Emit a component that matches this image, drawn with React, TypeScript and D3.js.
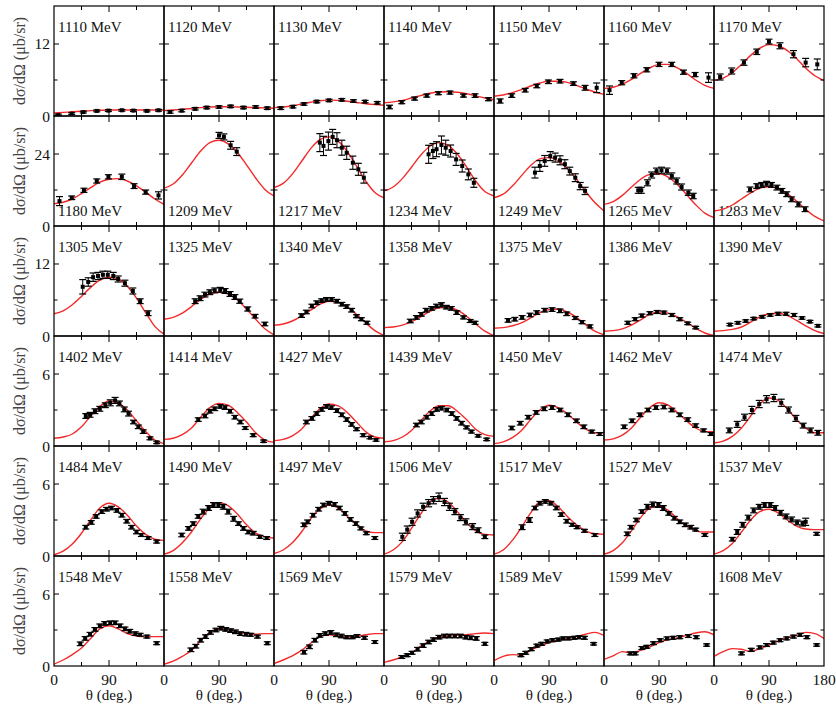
import * as d3 from "d3";

// beam energies, row by row (7 panels per row)
const energies = [
  1110, 1120, 1130, 1140, 1150, 1160, 1170,
  1180, 1209, 1217, 1234, 1249, 1265, 1283,
  1305, 1325, 1340, 1358, 1375, 1386, 1390,
  1402, 1414, 1427, 1439, 1450, 1462, 1474,
  1484, 1490, 1497, 1506, 1517, 1527, 1537,
  1548, 1558, 1569, 1579, 1589, 1599, 1608,
];

// y range of each row and its tick values (last one gets a label)
const rowMax = [18.33, 36.67, 18.33, 9.17, 9.17, 9.17];
const rowTicks = [[6, 12], [12, 24], [6, 12], [3, 6], [3, 6], [3, 6]];
const xTicks = [45, 90, 135];
const xLabels = [0, 90];

// model curve sampled every 15 degrees
const curveAngles = [0, 15, 30, 45, 60, 75, 90, 105, 120, 135, 150, 165, 180];
const curves = [
  [0.5, 0.6, 0.7, 0.8, 0.9, 0.95, 1.0, 1.0, 1.0, 1.0, 1.0, 1.0, 1.0],
  [0.9, 1.0, 1.1, 1.25, 1.4, 1.5, 1.55, 1.55, 1.5, 1.45, 1.4, 1.35, 1.3],
  [1.4, 1.5, 1.7, 2.0, 2.3, 2.55, 2.65, 2.6, 2.45, 2.25, 2.05, 1.9, 1.8],
  [2.2, 2.35, 2.6, 3.0, 3.4, 3.8, 4.0, 4.05, 3.95, 3.7, 3.35, 3.0, 2.7],
  [3.3, 3.5, 3.9, 4.4, 5.0, 5.5, 5.8, 5.8, 5.6, 5.1, 4.5, 4.0, 3.6],
  [4.6, 4.8, 5.3, 6.1, 7.1, 8.0, 8.6, 8.6, 8.0, 7.1, 6.0, 5.1, 4.6],
  [5.9, 6.3, 7.2, 8.6, 10.1, 11.3, 11.9, 11.7, 10.9, 9.6, 8.0, 6.7, 5.9],

  [7.4, 7.9, 9.0, 10.8, 12.8, 14.6, 15.6, 15.8, 15.0, 13.4, 11.3, 9.0, 7.2],
  [12.6, 14.0, 17.0, 21.0, 25.0, 27.8, 28.6, 27.4, 24.5, 20.4, 16.0, 12.2, 10.0],
  [12.8, 14.2, 17.3, 21.5, 25.8, 28.8, 29.7, 28.3, 24.8, 20.0, 15.0, 11.2, 9.4],
  [11.7, 13.0, 15.8, 19.6, 23.6, 26.6, 27.8, 26.9, 24.0, 19.7, 15.0, 11.5, 10.0],
  [9.4, 10.6, 13.3, 16.8, 20.2, 22.4, 22.8, 21.7, 19.2, 15.6, 11.5, 7.8, 5.0],
  [7.2, 8.1, 10.2, 13.0, 15.6, 17.2, 17.4, 16.3, 13.8, 10.5, 7.1, 4.3, 2.8],
  [5.0, 5.6, 7.0, 9.0, 11.0, 12.6, 13.1, 12.5, 10.8, 8.3, 5.6, 3.2, 1.7],

  [3.7, 4.2, 5.2, 6.6, 8.1, 9.3, 9.8, 9.5, 8.3, 6.3, 3.9, 1.6, 0.3],
  [2.8, 3.1, 3.8, 4.9, 6.1, 7.0, 7.3, 7.0, 6.0, 4.5, 2.8, 1.2, 0.2],
  [1.8, 2.0, 2.5, 3.3, 4.3, 5.3, 5.8, 5.6, 4.8, 3.6, 2.2, 0.9, 0.1],
  [1.4, 1.5, 1.8, 2.4, 3.2, 4.1, 4.7, 4.8, 4.3, 3.3, 2.0, 0.8, 0.05],
  [1.3, 1.4, 1.7, 2.2, 3.0, 3.9, 4.4, 4.5, 4.0, 3.1, 1.9, 0.8, 0.2],
  [0.8, 0.9, 1.2, 1.8, 2.7, 3.6, 4.0, 3.8, 3.2, 2.3, 1.3, 0.5, 0.1],
  [0.8, 0.9, 1.1, 1.5, 2.3, 3.2, 3.7, 3.8, 3.4, 2.6, 1.7, 0.9, 0.4],

  [0.64, 0.75, 1.0, 1.6, 2.5, 3.3, 3.75, 3.6, 3.0, 2.1, 1.2, 0.5, 0.2],
  [0.55, 0.65, 0.95, 1.5, 2.4, 3.2, 3.55, 3.4, 2.8, 2.0, 1.1, 0.5, 0.3],
  [0.45, 0.55, 0.85, 1.4, 2.3, 3.1, 3.5, 3.35, 2.8, 2.0, 1.2, 0.75, 0.65],
  [0.35, 0.45, 0.75, 1.3, 2.1, 2.9, 3.35, 3.35, 2.9, 2.2, 1.4, 0.95, 0.8],
  [0.2, 0.35, 0.7, 1.3, 2.2, 3.0, 3.4, 3.2, 2.7, 2.0, 1.4, 1.1, 1.1],
  [0.5, 0.6, 0.9, 1.5, 2.4, 3.2, 3.6, 3.4, 2.8, 2.1, 1.5, 1.2, 1.2],
  [0.25, 0.4, 0.8, 1.5, 2.5, 3.5, 4.0, 3.8, 3.1, 2.2, 1.5, 1.1, 1.1],

  [0.1, 0.4, 1.0, 1.9, 3.0, 4.0, 4.4, 4.1, 3.4, 2.5, 1.8, 1.4, 1.3],
  [0.15, 0.45, 1.1, 2.0, 3.1, 4.0, 4.45, 4.2, 3.5, 2.6, 1.9, 1.6, 1.5],
  [0.2, 0.5, 1.1, 2.0, 3.1, 3.9, 4.25, 4.0, 3.3, 2.6, 2.1, 1.95, 1.95],
  [0.15, 0.5, 1.2, 2.3, 3.5, 4.5, 4.8, 4.5, 3.7, 2.8, 2.1, 1.8, 1.75],
  [0.15, 0.5, 1.3, 2.4, 3.6, 4.5, 4.6, 4.1, 3.3, 2.6, 2.1, 1.85, 1.8],
  [0.15, 0.45, 1.1, 2.1, 3.2, 4.0, 4.15, 3.8, 3.1, 2.5, 2.1, 2.0, 2.0],
  [0.15, 0.45, 1.05, 2.0, 3.0, 3.7, 3.9, 3.6, 3.0, 2.5, 2.25, 2.2, 2.2],

  [0.15, 0.5, 0.95, 1.5, 2.3, 3.1, 3.35, 3.1, 2.7, 2.5, 2.45, 2.45, 2.45],
  [0.15, 0.4, 0.8, 1.3, 2.1, 2.8, 3.1, 3.05, 2.85, 2.7, 2.65, 2.7, 2.7],
  [0.2, 0.5, 0.85, 1.3, 1.9, 2.45, 2.6, 2.5, 2.4, 2.45, 2.6, 2.7, 2.7],
  [0.3, 0.5, 0.75, 1.1, 1.65, 2.1, 2.4, 2.5, 2.55, 2.6, 2.7, 2.75, 2.7],
  [0.45, 0.8, 0.95, 0.9, 1.3, 1.65, 1.95, 2.15, 2.3, 2.45, 2.65, 2.8, 2.55],
  [0.55, 0.85, 1.2, 1.1, 1.3, 1.6, 1.95, 2.2, 2.35, 2.55, 2.75, 2.85, 2.6],
  [0.8, 1.2, 1.45, 1.4, 1.2, 1.45, 1.75, 2.1, 2.35, 2.55, 2.8, 2.7, 2.3],
];

// measured points: [theta, dsigma, error]
const points = [
  [[7, 0.15, 0.15], [29, 0.4, 0.15], [48, 0.65, 0.15], [70, 0.85, 0.15], [89, 0.9, 0.15], [111, 0.95, 0.15], [130, 0.9, 0.15], [152, 0.85, 0.15], [171, 0.95, 0.15]],
  [[10, 0.67, 0.2], [29, 0.9, 0.2], [51, 1.2, 0.2], [70, 1.4, 0.2], [90, 1.5, 0.2], [109, 1.6, 0.2], [130, 1.4, 0.2], [150, 1.5, 0.2], [169, 1.3, 0.2]],
  [[11, 1.3, 0.2], [31, 1.55, 0.2], [49, 2.0, 0.2], [70, 2.4, 0.2], [90, 2.6, 0.2], [111, 2.7, 0.2], [130, 2.5, 0.2], [149, 2.4, 0.2], [169, 2.2, 0.2]],
  [[9, 1.5, 0.3], [29, 2.3, 0.25], [50, 2.9, 0.25], [70, 3.4, 0.25], [89, 3.8, 0.25], [108, 3.9, 0.25], [130, 3.4, 0.25], [149, 3.4, 0.3], [171, 2.8, 0.25]],
  [[10, 2.5, 0.35], [29, 3.4, 0.3], [51, 4.3, 0.3], [70, 5.0, 0.3], [89, 5.7, 0.3], [108, 5.8, 0.3], [130, 5.4, 0.3], [149, 4.7, 0.4], [168, 4.7, 0.8]],
  [[9, 4.3, 0.7], [29, 5.55, 0.35], [49, 6.7, 0.35], [70, 7.7, 0.35], [90, 8.6, 0.35], [111, 8.6, 0.35], [130, 7.3, 0.35], [149, 6.9, 0.35], [171, 6.4, 0.8]],
  [[10, 6.5, 0.5], [29, 7.5, 0.5], [49, 8.9, 0.45], [70, 10.7, 0.45], [90, 12.4, 0.4], [108, 11.7, 0.5], [130, 10.3, 0.6], [150, 8.9, 0.7], [169, 8.6, 0.9]],

  [[9, 8.3, 1.5], [29, 9.4, 0.6], [49, 11.9, 0.7], [70, 15.0, 0.7], [89, 16.4, 0.7], [111, 16.4, 0.9], [131, 13.3, 0.8], [150, 11.3, 0.7], [171, 10.2, 1.2]],
  [[90, 30.2, 1.0], [98, 29.7, 1.0], [109, 26.9, 1.3], [119, 24.8, 1.3]],
  [[75, 27.8, 3.0], [81, 26.7, 3.2], [89, 28.3, 3.0], [96, 29.7, 2.5], [103, 28.6, 2.5], [111, 26.1, 2.5], [119, 24.4, 2.2], [129, 21.1, 2.2], [138, 18.9, 2.0], [147, 16.1, 1.8]],
  [[73, 23.9, 3.0], [80, 25.0, 2.5], [86, 25.6, 2.5], [94, 27.0, 3.0], [101, 26.1, 2.5], [109, 25.0, 2.0], [118, 22.2, 2.0], [128, 20.0, 2.0], [138, 17.2, 1.8], [147, 14.4, 1.5]],
  [[67, 17.8, 1.8], [75, 20.0, 1.8], [83, 21.7, 1.8], [92, 23.3, 1.5], [100, 22.8, 1.5], [108, 21.9, 1.5], [116, 20.6, 1.5], [124, 18.3, 1.3], [133, 16.1, 1.3], [141, 13.3, 1.2], [149, 11.7, 1.2]],
  [[56, 11.9, 1.0], [61, 11.9, 1.0], [71, 14.4, 1.0], [78, 17.0, 1.0], [86, 18.3, 1.0], [94, 18.6, 1.0], [103, 18.3, 1.0], [111, 16.7, 1.0], [119, 15.0, 1.0], [127, 13.0, 1.0], [138, 11.1, 0.9], [146, 10.0, 0.9]],
  [[59, 12.2, 0.8], [70, 13.3, 0.8], [78, 13.7, 0.8], [86, 14.1, 0.8], [94, 13.7, 0.8], [103, 12.8, 0.8], [111, 11.7, 0.8], [119, 10.6, 0.8], [127, 8.9, 0.8], [138, 7.2, 0.8], [149, 5.6, 0.8]],

  [[47, 8.2, 1.2], [56, 9.0, 0.7], [64, 9.8, 0.7], [72, 10.0, 0.6], [80, 10.2, 0.6], [88, 10.2, 0.6], [97, 10.0, 0.6], [105, 9.5, 0.5], [116, 8.8, 0.5], [129, 7.5, 0.5], [141, 5.8, 0.4], [154, 3.8, 0.4]],
  [[51, 5.8, 0.4], [59, 6.3, 0.4], [67, 6.9, 0.4], [75, 7.3, 0.4], [83, 7.6, 0.4], [92, 7.7, 0.4], [100, 7.5, 0.4], [108, 7.0, 0.4], [116, 6.5, 0.4], [124, 5.8, 0.35], [137, 4.5, 0.35], [149, 3.3, 0.3], [165, 2.0, 0.3]],
  [[45, 3.4, 0.3], [53, 4.0, 0.3], [62, 5.0, 0.3], [70, 5.55, 0.3], [78, 5.9, 0.3], [86, 6.1, 0.3], [94, 6.1, 0.3], [103, 5.8, 0.3], [111, 5.3, 0.3], [119, 4.9, 0.3], [127, 4.3, 0.3], [135, 3.3, 0.25], [143, 2.8, 0.25], [152, 2.2, 0.25]],
  [[43, 2.5, 0.3], [53, 3.1, 0.3], [61, 3.6, 0.3], [69, 4.3, 0.3], [78, 4.6, 0.3], [86, 5.0, 0.3], [94, 5.2, 0.35], [102, 4.8, 0.3], [110, 4.6, 0.3], [119, 3.9, 0.3], [130, 3.1, 0.25], [141, 2.5, 0.25], [149, 2.2, 0.25]],
  [[23, 2.6, 0.3], [34, 2.8, 0.3], [46, 3.1, 0.3], [59, 3.5, 0.3], [70, 3.9, 0.3], [83, 4.3, 0.3], [95, 4.4, 0.3], [108, 4.2, 0.3], [119, 3.7, 0.3], [133, 3.0, 0.25], [144, 2.3, 0.25], [157, 1.6, 0.25]],
  [[39, 2.2, 0.25], [51, 2.8, 0.25], [62, 3.4, 0.25], [75, 3.8, 0.25], [87, 4.0, 0.25], [98, 3.9, 0.25], [111, 3.5, 0.25], [124, 2.8, 0.25], [137, 2.1, 0.2], [150, 1.4, 0.2]],
  [[26, 1.9, 0.2], [39, 2.2, 0.2], [52, 2.5, 0.2], [65, 2.9, 0.2], [79, 3.2, 0.2], [92, 3.5, 0.2], [105, 3.7, 0.25], [118, 3.7, 0.25], [131, 3.5, 0.25], [144, 3.0, 0.2], [157, 2.4, 0.2], [170, 1.7, 0.2]],

  [[52, 2.5, 0.2], [59, 2.6, 0.2], [67, 2.9, 0.2], [75, 3.1, 0.2], [84, 3.4, 0.2], [92, 3.6, 0.25], [100, 3.8, 0.25], [107, 3.55, 0.2], [115, 3.05, 0.2], [122, 2.7, 0.2], [130, 2.0, 0.15], [138, 1.6, 0.15], [146, 1.2, 0.15], [157, 0.64, 0.12], [168, 0.3, 0.1]],
  [[56, 2.2, 0.15], [67, 2.5, 0.15], [75, 2.9, 0.15], [83, 3.1, 0.15], [92, 3.3, 0.15], [100, 3.2, 0.15], [108, 2.9, 0.15], [116, 2.4, 0.15], [125, 2.0, 0.15], [133, 1.5, 0.12], [146, 0.9, 0.12], [163, 0.4, 0.1]],
  [[53, 2.0, 0.15], [62, 2.3, 0.15], [70, 2.7, 0.15], [78, 3.05, 0.15], [86, 3.3, 0.15], [94, 3.2, 0.15], [103, 2.95, 0.15], [111, 2.6, 0.15], [119, 2.2, 0.15], [127, 1.8, 0.15], [135, 1.4, 0.12], [146, 0.9, 0.12], [157, 0.7, 0.1], [167, 0.5, 0.1]],
  [[53, 1.75, 0.15], [61, 2.0, 0.15], [70, 2.4, 0.15], [78, 2.7, 0.15], [86, 3.05, 0.15], [94, 3.15, 0.15], [103, 3.0, 0.15], [111, 2.7, 0.15], [119, 2.3, 0.15], [127, 1.9, 0.15], [135, 1.55, 0.12], [143, 1.2, 0.12], [154, 0.85, 0.1], [168, 0.55, 0.1]],
  [[29, 1.5, 0.15], [43, 1.9, 0.15], [56, 2.4, 0.15], [69, 2.8, 0.15], [82, 3.1, 0.15], [95, 3.2, 0.15], [108, 3.0, 0.15], [121, 2.6, 0.15], [135, 2.1, 0.15], [147, 1.6, 0.15], [160, 1.2, 0.12], [173, 1.0, 0.12]],
  [[33, 1.6, 0.15], [46, 2.1, 0.15], [59, 2.6, 0.15], [72, 3.0, 0.15], [85, 3.2, 0.15], [98, 3.25, 0.15], [111, 3.0, 0.15], [124, 2.6, 0.15], [137, 2.2, 0.15], [150, 1.7, 0.15], [163, 1.3, 0.12], [175, 1.0, 0.12]],
  [[25, 1.3, 0.2], [38, 1.8, 0.25], [50, 2.4, 0.25], [62, 3.0, 0.3], [74, 3.5, 0.3], [86, 3.9, 0.3], [98, 4.0, 0.3], [110, 3.6, 0.3], [122, 3.0, 0.25], [134, 2.3, 0.25], [146, 1.7, 0.2], [158, 1.3, 0.2], [170, 1.1, 0.2]],

  [[52, 2.4, 0.15], [61, 2.8, 0.15], [69, 3.3, 0.15], [78, 3.7, 0.15], [86, 3.9, 0.15], [94, 4.0, 0.15], [103, 3.8, 0.15], [111, 3.4, 0.15], [119, 2.9, 0.15], [127, 2.4, 0.15], [135, 2.0, 0.15], [143, 1.75, 0.12], [154, 1.5, 0.12], [168, 1.2, 0.12]],
  [[29, 1.75, 0.15], [40, 2.3, 0.15], [48, 2.7, 0.15], [56, 3.3, 0.15], [64, 3.7, 0.2], [73, 4.0, 0.2], [81, 4.25, 0.2], [89, 4.25, 0.2], [97, 4.1, 0.2], [105, 3.7, 0.2], [114, 3.1, 0.2], [122, 2.7, 0.15], [130, 2.3, 0.15], [138, 2.0, 0.15], [146, 1.9, 0.15], [157, 1.6, 0.12], [168, 1.5, 0.12]],
  [[49, 2.6, 0.15], [55, 2.85, 0.15], [64, 3.4, 0.15], [73, 3.9, 0.15], [81, 4.25, 0.15], [90, 4.4, 0.15], [99, 4.3, 0.15], [107, 4.0, 0.15], [116, 3.55, 0.15], [125, 3.05, 0.15], [134, 2.7, 0.15], [142, 2.3, 0.12], [151, 1.9, 0.12], [165, 1.5, 0.12]],
  [[30, 1.6, 0.3], [38, 2.2, 0.3], [46, 2.85, 0.3], [55, 3.55, 0.3], [64, 4.1, 0.3], [73, 4.4, 0.3], [81, 4.65, 0.3], [90, 4.9, 0.35], [99, 4.5, 0.3], [107, 4.1, 0.3], [116, 3.7, 0.25], [125, 3.2, 0.25], [134, 2.85, 0.25], [145, 2.45, 0.25], [154, 2.15, 0.2], [165, 1.6, 0.15]],
  [[46, 2.4, 0.2], [58, 3.0, 0.2], [67, 4.0, 0.15], [75, 4.4, 0.15], [84, 4.55, 0.15], [93, 4.4, 0.15], [102, 4.0, 0.15], [110, 3.45, 0.15], [119, 2.9, 0.15], [128, 2.6, 0.12], [136, 2.4, 0.12], [148, 2.1, 0.12], [165, 1.75, 0.12]],
  [[38, 1.85, 0.15], [44, 2.4, 0.15], [53, 3.0, 0.15], [62, 3.7, 0.15], [71, 4.1, 0.2], [80, 4.3, 0.2], [89, 4.25, 0.2], [97, 4.0, 0.2], [106, 3.55, 0.15], [115, 3.15, 0.15], [124, 2.85, 0.15], [133, 2.6, 0.15], [142, 2.4, 0.15], [150, 2.2, 0.12], [165, 1.75, 0.12]],
  [[30, 1.4, 0.15], [38, 2.0, 0.2], [47, 2.6, 0.2], [56, 3.2, 0.2], [65, 3.8, 0.2], [74, 4.1, 0.2], [83, 4.25, 0.2], [92, 4.25, 0.2], [100, 4.0, 0.2], [109, 3.6, 0.2], [118, 3.3, 0.2], [127, 3.05, 0.2], [136, 2.8, 0.2], [145, 2.7, 0.2], [150, 2.85, 0.3], [168, 1.85, 0.12]],

  [[43, 1.85, 0.15], [51, 2.3, 0.15], [59, 2.65, 0.15], [67, 3.05, 0.15], [75, 3.35, 0.15], [83, 3.55, 0.15], [92, 3.6, 0.15], [100, 3.6, 0.15], [108, 3.35, 0.15], [116, 3.1, 0.15], [124, 2.9, 0.15], [133, 2.7, 0.15], [141, 2.6, 0.12], [152, 2.45, 0.12], [168, 1.9, 0.12]],
  [[44, 1.35, 0.15], [52, 1.65, 0.15], [60, 2.15, 0.15], [68, 2.45, 0.15], [76, 2.8, 0.15], [85, 3.0, 0.15], [93, 3.15, 0.15], [101, 3.05, 0.15], [109, 2.95, 0.15], [117, 2.85, 0.15], [125, 2.7, 0.15], [134, 2.65, 0.15], [142, 2.6, 0.12], [153, 2.45, 0.12], [169, 1.9, 0.12]],
  [[49, 1.15, 0.15], [58, 1.6, 0.15], [67, 2.15, 0.15], [75, 2.55, 0.15], [84, 2.7, 0.15], [93, 2.8, 0.15], [102, 2.6, 0.15], [110, 2.5, 0.15], [119, 2.4, 0.12], [128, 2.4, 0.12], [136, 2.5, 0.12], [148, 2.35, 0.12], [165, 2.0, 0.12]],
  [[29, 0.75, 0.12], [38, 0.9, 0.12], [46, 1.1, 0.12], [55, 1.4, 0.15], [64, 1.7, 0.15], [73, 2.0, 0.15], [81, 2.2, 0.15], [90, 2.4, 0.15], [99, 2.5, 0.15], [107, 2.5, 0.15], [116, 2.5, 0.15], [125, 2.5, 0.15], [134, 2.4, 0.15], [142, 2.35, 0.15], [151, 2.3, 0.15], [165, 1.85, 0.12]],
  [[44, 0.9, 0.12], [52, 1.1, 0.12], [61, 1.4, 0.12], [70, 1.7, 0.12], [78, 1.85, 0.12], [87, 2.05, 0.12], [96, 2.15, 0.12], [105, 2.2, 0.12], [113, 2.3, 0.12], [122, 2.3, 0.12], [131, 2.35, 0.12], [139, 2.4, 0.12], [148, 2.35, 0.12], [163, 1.85, 0.1]],
  [[43, 1.05, 0.12], [51, 1.05, 0.12], [62, 1.5, 0.12], [70, 1.6, 0.12], [81, 1.9, 0.12], [92, 2.15, 0.12], [103, 2.3, 0.12], [113, 2.35, 0.12], [124, 2.4, 0.12], [138, 2.5, 0.12], [151, 2.4, 0.12], [168, 1.75, 0.1]],
  [[45, 1.05, 0.12], [61, 1.35, 0.12], [75, 1.55, 0.12], [86, 1.75, 0.12], [97, 1.95, 0.12], [108, 2.15, 0.12], [119, 2.3, 0.12], [130, 2.45, 0.12], [141, 2.6, 0.12], [152, 2.4, 0.12], [168, 1.75, 0.1]],
];

const width = 836;
const height = 705;
const gridLeft = 54;
const gridTop = 6;
const cell = 110;
const cols = 7;
const serif = "Liberation Serif";
const ink = "#111";

const xScale = d3.scaleLinear().domain([0, 180]).range([0, cell]);

function Panel({ index }: { index: number }) {
  const row = Math.floor(index / cols);
  const col = index % cols;
  const yScale = d3.scaleLinear().domain([0, rowMax[row]]).range([cell, 0]);
  const line = d3
    .line<number>()
    .x((_, i) => xScale(curveAngles[i]))
    .y((d) => yScale(d))
    .curve(d3.curveMonotoneX);
  const ticks = rowTicks[row];
  const clipId = `clip-${index}`;
  // second row puts the energy at the bottom of the panel
  const labelY = row === 1 ? cell - 10 : 26;

  return (
    <g transform={`translate(${gridLeft + col * cell}, ${gridTop + row * cell})`}>
      <clipPath id={clipId}>
        <rect x={0} y={0} width={cell} height={cell} />
      </clipPath>
      <text x={4} y={labelY} fontFamily={serif} fontSize={15} fill={ink}>
        {`${energies[index]} MeV`}
      </text>
      <g clipPath={`url(#${clipId})`}>
        <path d={line(curves[index]) ?? ""} fill="none" stroke="#f42a2a" strokeWidth={1.4} />
        {points[index].map(([t, v, e], i) => {
          const cx = xScale(t);
          const y1 = yScale(v - e);
          const y2 = yScale(v + e);
          return (
            <g key={i} stroke="#000">
              <line x1={cx} x2={cx} y1={y1} y2={y2} strokeWidth={1} />
              <line x1={cx - 3.5} x2={cx + 3.5} y1={y1} y2={y1} strokeWidth={1.2} />
              <line x1={cx - 3.5} x2={cx + 3.5} y1={y2} y2={y2} strokeWidth={1.2} />
              <rect x={cx - 2} y={yScale(v) - 2} width={4} height={4} fill="#000" stroke="none" />
            </g>
          );
        })}
      </g>
      {ticks.map((t, i) => {
        const len = i === ticks.length - 1 ? 5 : 3.5;
        const y = yScale(t);
        return (
          <g key={`yt-${t}`} stroke="#000" strokeWidth={1}>
            <line x1={0} x2={len} y1={y} y2={y} />
            <line x1={cell - len} x2={cell} y1={y} y2={y} />
          </g>
        );
      })}
      {xTicks.map((t) => {
        const len = t === 90 ? 6 : 4;
        const x = xScale(t);
        return (
          <g key={`xt-${t}`} stroke="#000" strokeWidth={1}>
            <line x1={x} x2={x} y1={cell} y2={cell - len} />
            <line x1={x} x2={x} y1={0} y2={len} />
          </g>
        );
      })}
      <rect x={0} y={0} width={cell} height={cell} fill="none" stroke="#000" strokeWidth={1.2} />
    </g>
  );
}

export default function App() {
  const bottom = gridTop + rowMax.length * cell;
  return (
    <svg
      width={width}
      height={height}
      style={{ position: "absolute", left: 0, top: 0, background: "#fff" }}
    >
      <rect x={0} y={0} width={width} height={height} fill="#fff" />
      {energies.map((_, i) => (
        <Panel key={i} index={i} />
      ))}
      {rowMax.map((max, r) => {
        const y = d3
          .scaleLinear()
          .domain([0, max])
          .range([gridTop + (r + 1) * cell, gridTop + r * cell]);
        const top = rowTicks[r][rowTicks[r].length - 1];
        return (
          <g key={`row-${r}`} fontFamily={serif} fontSize={15.5} fill={ink}>
            <text x={gridLeft - 4} y={y(top)} textAnchor="end" dominantBaseline="central">
              {top}
            </text>
            <text x={gridLeft - 4} y={y(0)} textAnchor="end" dominantBaseline="central">
              0
            </text>
            <text
              transform={`translate(25, ${gridTop + r * cell + cell / 2}) rotate(-90)`}
              textAnchor="middle"
              fontSize={16}
              fill="#444"
            >
              dσ/dΩ (μb/sr)
            </text>
          </g>
        );
      })}
      {d3.range(cols).map((c) => {
        const x0 = gridLeft + c * cell;
        return (
          <g
            key={`col-${c}`}
            fontFamily={serif}
            fontSize={15.5}
            fill={ink}
            textAnchor="middle"
          >
            {xLabels.map((l) => (
              <text key={l} x={x0 + xScale(l)} y={bottom + 19}>
                {l}
              </text>
            ))}
            {c === cols - 1 ? (
              <text x={x0 + xScale(180)} y={bottom + 19}>
                180
              </text>
            ) : null}
            <text x={x0 + cell / 2} y={bottom + 34} fontSize={15}>
              θ (deg.)
            </text>
          </g>
        );
      })}
    </svg>
  );
}
